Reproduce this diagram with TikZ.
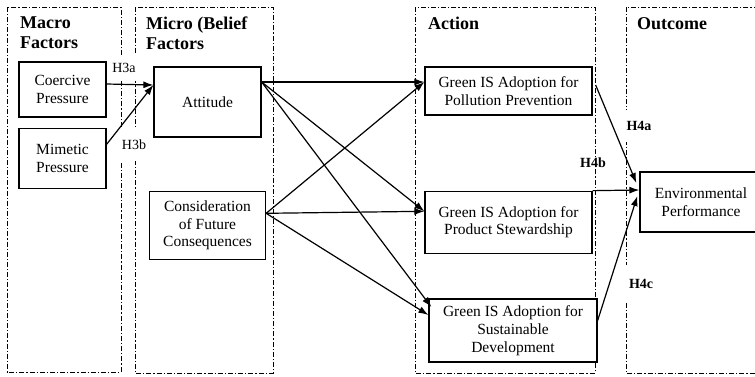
\documentclass[tikz,border=0pt]{standalone}
\usepackage{fontspec}
\setmainfont{Liberation Serif}
\usepackage{xcolor}
\definecolor{modelInk}{HTML}{000000}
\usepackage{tikz}
\usetikzlibrary{arrows.meta,positioning}
\tikzset{
    panel/.style={
        draw=modelInk,
        line width=1pt,
        dash pattern=on 5pt off 2pt on 1.2pt off 2pt
    },
    heading/.style={
        anchor=north west,
        align=left,
        inner sep=0pt,
        font=\bfseries\fontsize{18}{20}\selectfont
    },
    construct/.style={
        draw=modelInk,
        fill=white,
        rectangle,
        line width=1.3pt,
        align=center,
        inner sep=3pt,
        font=\fontsize{15.5}{17.7}\selectfont
    },
    hypo/.style={
        fill=white,
        inner sep=0pt,
        font=\fontsize{14}{16}\selectfont
    },
    path/.style={
        -{Latex[length=10pt,width=7pt]},
        line width=1.2pt,
        color=modelInk
    }
}

\begin{document}
\begin{tikzpicture}[x=1pt, y=-1pt]
    \useasboundingbox (0,0) rectangle (755,376);
    \fill[white] (0,0) rectangle (755,376);
    \clip (0,0) rectangle (755,376);

    % the four stages
    \draw[panel] (7,7) rectangle (121,372);
    \draw[panel] (135,7) rectangle (273,373);
    \draw[panel] (415,7) rectangle (595,373);
    \draw[panel] (626,7) rectangle (770,373);
    \node[heading] (macroHead) at (20,17) {Macro\\Factors};
    \node[heading] (microHead) at (146,17) {Micro (Belief\\Factors};
    \node[heading] (actionHead) at (428,17) {Action};
    \node[heading] (outcomeHead) at (637,17) {Outcome};

    \node[hypo, minimum width=32pt, minimum height=26pt] (h3a) at (124,68) {H3a};
    \node[hypo, minimum width=30pt, minimum height=32pt] (h3b) at (134,145) {H3b};
    \node[hypo, minimum width=30pt, minimum height=32pt, font=\bfseries\fontsize{14}{16}\selectfont] (h4a) at (639,126) {H4a};
    \node[hypo, fill=none, font=\bfseries\fontsize{14}{16}\selectfont] (h4b) at (593,163) {H4b};
    \node[hypo, minimum width=40pt, minimum height=38pt, text width=22pt, align=right, font=\bfseries\fontsize{14}{16}\selectfont] (h4c) at (640,284) {H4c};

    \node[construct, minimum width=87pt, minimum height=55pt] (coercive) at (62.5,89.5) {Coercive\\Pressure};
    \node[construct, minimum width=87pt, minimum height=60pt, below=10pt of coercive] (mimetic) {Mimetic\\Pressure};
    \node[construct, minimum width=107pt, minimum height=70pt] (attitude) at (207.5,102) {Attitude};
    \node[construct, minimum width=116pt, minimum height=68pt, below=53pt of attitude] (cfc) {Consideration\\of Future\\Consequences};
    \node[construct, minimum width=167pt, minimum height=48pt] (pollution) at (508.5,91) {Green IS Adoption for\\Pollution Prevention};
    \node[construct, minimum width=167pt, minimum height=62pt, below=75pt of pollution] (stewardship) {Green IS Adoption for\\Product Stewardship};
    \node[construct, minimum width=168pt, minimum height=63pt] (sustain) at (513,330.5) {Green IS Adoption for\\Sustainable\\Development};
    \node[construct, minimum width=122pt, minimum height=60pt] (envperf) at (701,202) {Environmental\\Performance};

    % macro -> attitude
    \draw[path] ([yshift=5.5pt]coercive.east) -- ([yshift=17pt]attitude.west);
    \draw[path] ([yshift=14pt]mimetic.east) -- ([yshift=17pt]attitude.west);
    % beliefs -> adoption
    \draw[path] ([yshift=20pt]attitude.east) -- ([yshift=9pt]pollution.west);
    \draw[path] ([yshift=20pt]attitude.east) -- ([yshift=11pt]stewardship.west);
    \draw[path] ([yshift=20pt]attitude.east) -- ([xshift=3pt,yshift=23.5pt]sustain.west);
    \draw[path] ([yshift=12pt]cfc.east) -- ([yshift=9pt]pollution.west);
    \draw[path] ([yshift=12pt]cfc.east) -- ([yshift=11pt]stewardship.west);
    \draw[path] ([yshift=12pt]cfc.east) -- ([yshift=15.5pt]sustain.west);
    % adoption -> performance
    \draw[path] ([xshift=3pt,yshift=6pt]pollution.east) -- ([xshift=-3pt,yshift=19pt]envperf.west);
    \draw[path] (stewardship.north east) -- ([yshift=12pt]envperf.west);
    \draw[path] ([yshift=10pt]sustain.east) -- ([xshift=-2pt,yshift=6pt]envperf.west);
\end{tikzpicture}
\end{document}
